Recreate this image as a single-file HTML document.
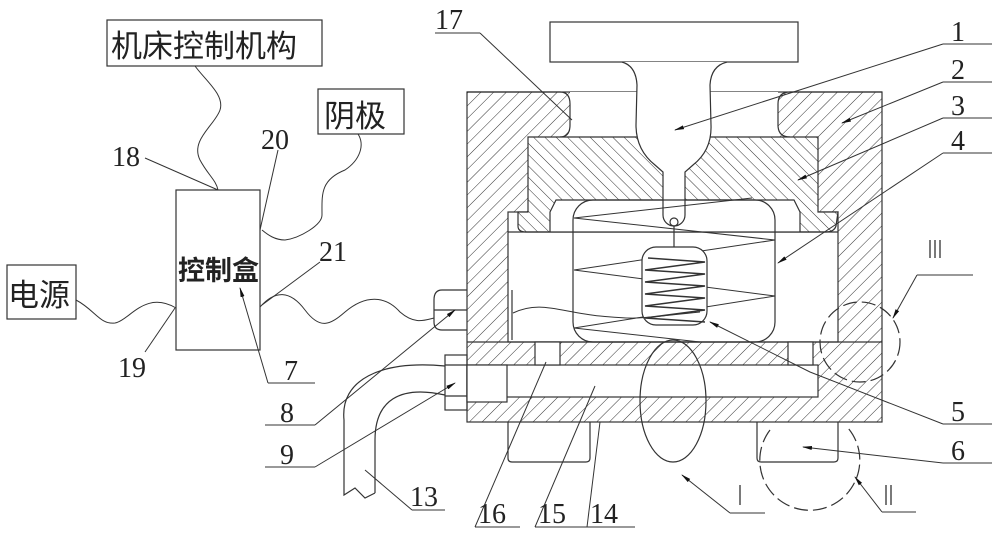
<!DOCTYPE html>
<html><head><meta charset="utf-8"><style>
html,body{margin:0;padding:0;background:#fff;}
svg{display:block;}
text{font-family:"Liberation Serif","Noto Serif CJK SC",serif;fill:#222;}
.cn{font-family:"Liberation Sans","Noto Sans CJK SC",sans-serif;}
</style></head><body>
<svg width="1000" height="543" viewBox="0 0 1000 543" xmlns="http://www.w3.org/2000/svg">
<defs>
<pattern id="h1" width="9" height="9" patternUnits="userSpaceOnUse" patternTransform="rotate(45)">
<rect width="9" height="9" fill="#fff"/><line x1="0" y1="0" x2="0" y2="9" stroke="#333" stroke-width="1"/></pattern>
<pattern id="h2" width="8" height="8" patternUnits="userSpaceOnUse" patternTransform="rotate(-45)">
<rect width="8" height="8" fill="#fff"/><line x1="0" y1="0" x2="0" y2="8" stroke="#333" stroke-width="1"/></pattern>
<marker id="ar" markerWidth="10" markerHeight="6" refX="9" refY="3" orient="auto" markerUnits="userSpaceOnUse"><path d="M0,1 L10,3 L0,5z" fill="#111"/></marker>
</defs>
<g fill="none" stroke="#333" stroke-width="1.2">
<rect x="467" y="92" width="415" height="330" fill="url(#h1)"/>
<path d="M570,92 H778 V137 H570 Z" fill="#fff" stroke="none"/>
<path d="M467,92 H560 Q570,92 570,104 V125 Q570,137 560,137" />
<path d="M882,92 H790 Q778,92 778,104 V125 Q778,137 790,137"/>
<rect x="508" y="212" width="330" height="130" fill="#fff"/>
<path d="M528,137 H818 V212 H838 L836,226 Q834,232 826,232 H526 Q518,232 518,226 L518,212 H528 Z" fill="url(#h2)"/>
<path d="M550,232 V212 L556,200 H794 L800,212 V232" fill="#fff"/>
<line x1="508" y1="232" x2="838" y2="232"/>
<line x1="467" y1="342" x2="882" y2="342"/>
<rect x="467" y="365" width="351" height="32" fill="#fff"/>
<rect x="535" y="342" width="25" height="23" fill="#fff"/>
<rect x="788" y="342" width="25" height="23" fill="#fff"/>
<path d="M508,422 V458 Q508,462 512,462 H586 Q590,462 590,458 V422"/>
<path d="M757,422 V458 Q757,462 761,462 H834 Q838,462 838,458 V422"/>
<rect x="550" y="22" width="248" height="40" fill="#fff"/>
<path d="M622,62 Q636,66 637,85 L636,125 Q636,150 655,165 L663,172 V215 A11,11 0 0 0 685,215 V172 L693,165 Q712,150 711,125 L710,85 Q711,66 727,62" fill="#fff"/>
<circle cx="674" cy="222" r="4"/>
<line x1="674" y1="226" x2="674" y2="248"/>
<rect x="573" y="200" width="202" height="142" rx="20" fill="none"/>
<polyline points="752,198 574,218 775,240 574,270 775,296 574,328 700,342" stroke-width="1"/>
<rect x="642" y="247" width="65" height="78" rx="14" fill="#fff"/>
<polyline points="648,258 705,262 645,270 705,274 645,282 705,286 645,294 705,298 645,306 705,310 645,318 705,322" stroke-width="1.4"/>
<path d="M513,313 C540,300 560,312 600,316 S640,318 700,312" stroke-width="1"/>
<line x1="512" y1="290" x2="512" y2="340"/>
<path d="M467,290 H442 Q434,290 434,300 V322 Q434,330 442,330 H467"/>
<line x1="434" y1="310" x2="467" y2="310"/>
<rect x="445" y="355" width="22" height="55"/>
<rect x="467" y="365" width="40" height="37" fill="#fff"/>
<line x1="445" y1="365" x2="467" y2="365"/>
<line x1="445" y1="396" x2="467" y2="396"/>
<path d="M445,366 C380,360 340,380 344,420 V495 L355,488 L365,498 L375,493"/>
<path d="M445,395 C400,385 375,400 375,440 V493"/>
<ellipse cx="673" cy="401" rx="33" ry="61" fill="none"/>
<circle cx="860" cy="342" r="40" stroke-dasharray="14,5"/>
<path d="M770,430 A50,50 0 1 0 848,428" stroke-dasharray="14,5"/>
<rect x="107" y="20" width="215" height="46"/>
<rect x="318" y="89" width="86" height="45"/>
<rect x="7" y="265" width="69" height="54"/>
<rect x="176" y="190" width="84" height="160"/>
<path d="M195,66 C205,80 225,95 220,110 C215,125 190,140 200,160 C208,175 216,180 218,190" stroke-width="1"/>
<path d="M358,134 C365,145 360,160 345,170 C320,180 322,195 322,215 C322,225 300,238 285,240 C275,240 268,235 262,230" stroke-width="1"/>
<path d="M76,300 C95,310 100,325 115,323 C130,320 145,290 176,308" stroke-width="1"/>
<path d="M260,307 C275,290 290,290 305,310 C320,330 330,325 345,312 C365,295 385,295 400,312 C415,325 425,320 434,318" stroke-width="1"/>
<g stroke-width="1">
<polyline points="943,44 992,44"/><line x1="943" y1="44" x2="675" y2="130" marker-end="url(#ar)"/>
<polyline points="943,82 992,82"/><line x1="943" y1="82" x2="842" y2="123" marker-end="url(#ar)"/>
<polyline points="943,118 992,118"/><line x1="943" y1="118" x2="798" y2="180" marker-end="url(#ar)"/>
<polyline points="943,153 992,153"/><line x1="943" y1="153" x2="778" y2="263" marker-end="url(#ar)"/>
<polyline points="943,424 992,424"/><polyline points="943,424 810,372 710,322" marker-end="url(#ar)"/>
<polyline points="943,463 992,463"/><line x1="943" y1="463" x2="803" y2="447" marker-end="url(#ar)"/>
<polyline points="917,275 973,275"/><line x1="917" y1="275" x2="893" y2="318" marker-end="url(#ar)"/>
<polyline points="882,512 916,512"/><line x1="882" y1="512" x2="855" y2="477" marker-end="url(#ar)"/>
<polyline points="730,513 765,513"/><line x1="730" y1="513" x2="682" y2="475" marker-end="url(#ar)"/>
<polyline points="587,527 635,527"/><line x1="587" y1="527" x2="600" y2="422"/>
<polyline points="535,527 590,527"/><line x1="535" y1="527" x2="595" y2="386"/>
<polyline points="475,527 520,527"/><line x1="475" y1="527" x2="546" y2="362"/>
<polyline points="412,510 445,510"/><line x1="412" y1="510" x2="365" y2="470"/>
<polyline points="265,425 315,425"/><line x1="315" y1="425" x2="455" y2="310" marker-end="url(#ar)"/>
<polyline points="265,467 315,467"/><line x1="315" y1="467" x2="455" y2="383" marker-end="url(#ar)"/>
<polyline points="268,383 315,383"/><line x1="268" y1="383" x2="240" y2="288" marker-end="url(#ar)"/>
<polyline points="435,33 480,33"/><line x1="480" y1="33" x2="572" y2="120"/>
<line x1="145" y1="158" x2="218" y2="190"/>
<line x1="278" y1="150" x2="260" y2="230"/>
<line x1="320" y1="262" x2="262" y2="305"/>
<line x1="145" y1="352" x2="175" y2="308"/>
</g>
</g>
<g font-size="28" font-family="Liberation Serif, serif">
<text x="951" y="41">1</text><text x="951" y="79">2</text><text x="951" y="115">3</text><text x="951" y="150">4</text>
<text x="951" y="421">5</text><text x="951" y="460">6</text>
<text x="435" y="29">17</text>
<text x="590" y="523">14</text><text x="538" y="523">15</text><text x="478" y="523">16</text><text x="410" y="506">13</text>
<text x="280" y="422">8</text><text x="280" y="464">9</text><text x="284" y="380">7</text>
<text x="112" y="166">18</text><text x="261" y="149">20</text><text x="319" y="261">21</text><text x="118" y="377">19</text>
</g>
<g stroke="#333" stroke-width="1.3">
<line x1="930" y1="240" x2="930" y2="258"/><line x1="935" y1="240" x2="935" y2="258"/><line x1="940" y1="240" x2="940" y2="258"/>
<line x1="886" y1="485" x2="886" y2="505"/><line x1="891" y1="485" x2="891" y2="505"/>
<line x1="740" y1="485" x2="740" y2="505"/>
</g>
<text class="cn" x="111" y="57" font-size="31">机床控制机构</text>
<text class="cn" x="324" y="127" font-size="31">阴极</text>
<text class="cn" x="8" y="306" font-size="31">电源</text>
<text class="cn" x="178" y="280" font-size="27" font-weight="bold">控制盒</text>
</svg>
</body></html>
